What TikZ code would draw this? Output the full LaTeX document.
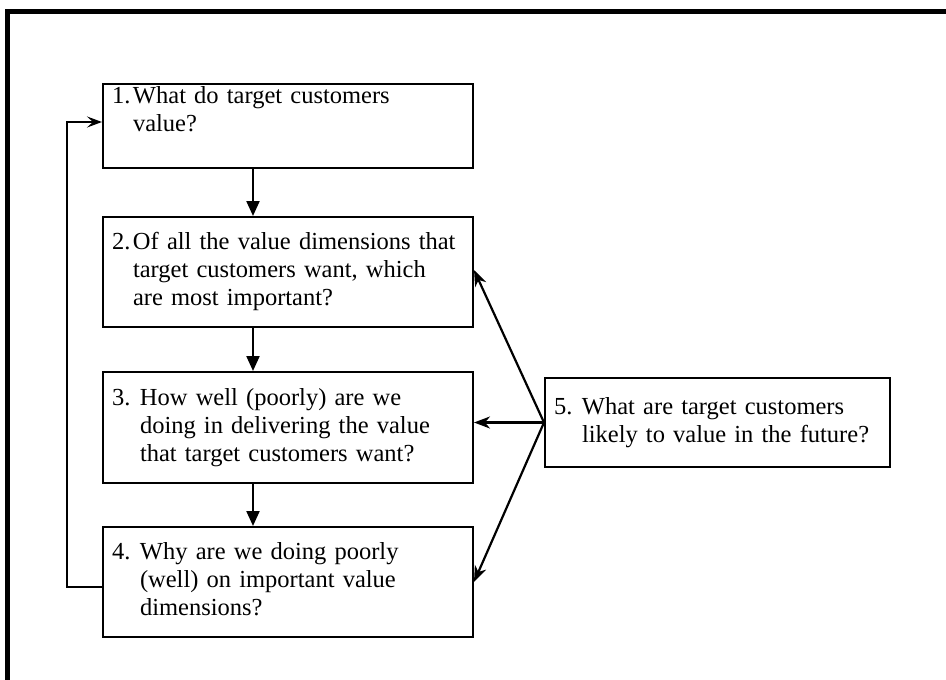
\documentclass[tikz,border=0pt]{standalone}
\usepackage{fontspec}
\setmainfont{Liberation Serif}
\usetikzlibrary{arrows.meta}
\newcommand{\numA}[1]{\makebox[21pt][l]{#1}}
\newcommand{\numB}[1]{\makebox[28pt][l]{#1}}
\begin{document}
\begin{tikzpicture}[x=1pt,y=-1pt,
  qbox/.style={draw, line width=2pt, inner xsep=9pt, inner ysep=0pt, align=left,
    font=\fontsize{24.5}{28}\selectfont, anchor=center},
  flow/.style={line width=2.2pt, -{Triangle[length=15pt,width=13pt]}},
  fut/.style={line width=2.2pt, -{Stealth[length=16pt,width=12pt,inset=5pt]}},
  back/.style={line width=2.2pt, -{Stealth[length=15pt,width=11pt,inset=6pt]}}]
\useasboundingbox (0,0) rectangle (946,680);
\fill[white] (0,0) rectangle (946,680);
% outer frame (top and left edges visible)
\draw[line width=5pt] (7.5,700) -- (7.5,11.5) -- (960,11.5);

\node[qbox, text width=352pt, minimum width=370pt, minimum height=82pt] (b1) at (288,126)
  {\begin{tabular}{@{}l@{}l@{}}\numA{1.}&What do target customers\\&value?\\&\end{tabular}};
\node[qbox, text width=352pt, minimum width=370pt, minimum height=110pt] (b2) at (288,272)
  {\begin{tabular}{@{}l@{}l@{}}\numA{2.}&\makebox[334pt][s]{Of all the value dimensions that}\\&target customers want, which\\&are most important?\end{tabular}};
\node[qbox, text width=352pt, minimum width=370pt, minimum height=111pt] (b3) at (288,427.5)
  {\begin{tabular}{@{}l@{}l@{}}\numB{3.}&How well (poorly) are we\\&doing in delivering the value\\&that target customers want?\end{tabular}};
\node[qbox, text width=352pt, minimum width=370pt, minimum height=110pt] (b4) at (288,582)
  {\begin{tabular}{@{}l@{}l@{}}\numB{4.}&Why are we doing poorly\\&(well) on important value\\&dimensions?\end{tabular}};
\node[qbox, text width=327pt, minimum width=345pt, minimum height=89pt] (b5) at (717.5,422.5)
  {\begin{tabular}{@{}l@{}l@{}}\numB{5.}&What are target customers\\&likely to value in the future?\end{tabular}};

\coordinate (ax) at (253,0);
\draw[flow] (b1.south -| ax) -- (b2.north -| ax);
\draw[flow] (b2.south -| ax) -- (b3.north -| ax);
\draw[flow] (b3.south -| ax) -- (b4.north -| ax);

\draw[back] ([yshift=-5pt]b4.west) -- ++(-35,0) |- ([yshift=4pt]b1.west);

\draw[fut] (b5.west) -- (b3.east |- b5.west);
\draw[fut] (b5.west) -- ([yshift=2pt]b2.east);
\draw[fut] (b5.west) -- (b4.east);
\end{tikzpicture}
\end{document}
